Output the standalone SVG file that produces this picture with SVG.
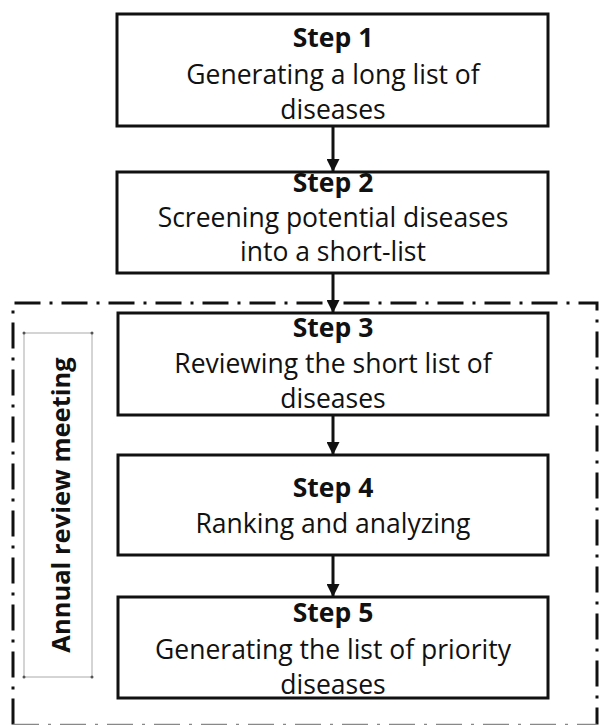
<svg xmlns="http://www.w3.org/2000/svg" width="600" height="725" viewBox="0 0 600 725">
<defs>
<style>
.box{fill:#fff;stroke:#111;stroke-width:3}
.t{font-family:"Open Sans","Liberation Sans",sans-serif;font-size:26.5px;fill:#111;text-anchor:middle}
.b{font-weight:bold}
.lbl{font-family:"Open Sans","Liberation Sans",sans-serif;font-size:25.5px;font-weight:bold;fill:#111;text-anchor:middle}
.conn{stroke:#111;stroke-width:3;fill:none}
.frame{fill:none;stroke:#111;stroke-width:3;stroke-dasharray:26 9 3 9}
</style>
<marker id="ah" markerUnits="userSpaceOnUse" markerWidth="13" markerHeight="13" refX="12" refY="6.5" orient="auto">
<path d="M0,0 L13,6.5 L0,13 Z" fill="#111"/>
</marker>
</defs>
<rect width="600" height="725" fill="#fff"/>
<g id="frame">
<path class="frame" d="M13,724.5 L13,303 L597,303 L597,724.5"/>
<line x1="13" y1="724.5" x2="597" y2="724.5" stroke="#888" stroke-width="1.5" stroke-dasharray="26 9 3 9"/>
</g>
<g id="annual-review">
<rect x="24" y="333" width="68" height="344" fill="none" stroke="#aaa" stroke-width="1"/>
<circle cx="24" cy="333" r="1.5" fill="#555"/>
<circle cx="92" cy="333" r="1.5" fill="#555"/>
<circle cx="24" cy="677" r="1.5" fill="#555"/>
<circle cx="92" cy="677" r="1.5" fill="#555"/>
<text class="lbl" transform="translate(70,505) rotate(-90)">Annual review meeting</text>
</g>
<g id="connectors">
<line class="conn" x1="333" y1="126" x2="333" y2="171" marker-end="url(#ah)"/>
<line class="conn" x1="333" y1="273" x2="333" y2="312" marker-end="url(#ah)"/>
<line class="conn" x1="333" y1="415" x2="333" y2="454" marker-end="url(#ah)"/>
<line class="conn" x1="333" y1="555" x2="333" y2="596" marker-end="url(#ah)"/>
</g>
<g id="step1">
<rect class="box" x="117" y="14" width="431" height="112"/>
<text class="t b" x="333" y="47">Step 1</text>
<text class="t" x="333" y="84">Generating a long list of</text>
<text class="t" x="333" y="119">diseases</text>
</g>
<g id="step2">
<rect class="box" x="117" y="172" width="431" height="101"/>
<text class="t b" x="333" y="192">Step 2</text>
<text class="t" x="333" y="227">Screening potential diseases</text>
<text class="t" x="333" y="261">into a short-list</text>
</g>
<g id="step3">
<rect class="box" x="118" y="313" width="430" height="102"/>
<text class="t b" x="333" y="337">Step 3</text>
<text class="t" x="333" y="373">Reviewing the short list of</text>
<text class="t" x="333" y="408">diseases</text>
</g>
<g id="step4">
<rect class="box" x="118" y="455" width="430" height="100"/>
<text class="t b" x="333" y="497">Step 4</text>
<text class="t" x="333" y="533">Ranking and analyzing</text>
</g>
<g id="step5">
<rect class="box" x="118" y="597" width="430" height="101"/>
<text class="t b" x="333" y="622">Step 5</text>
<text class="t" x="333" y="659">Generating the list of priority</text>
<text class="t" x="333" y="694">diseases</text>
</g>
</svg>
